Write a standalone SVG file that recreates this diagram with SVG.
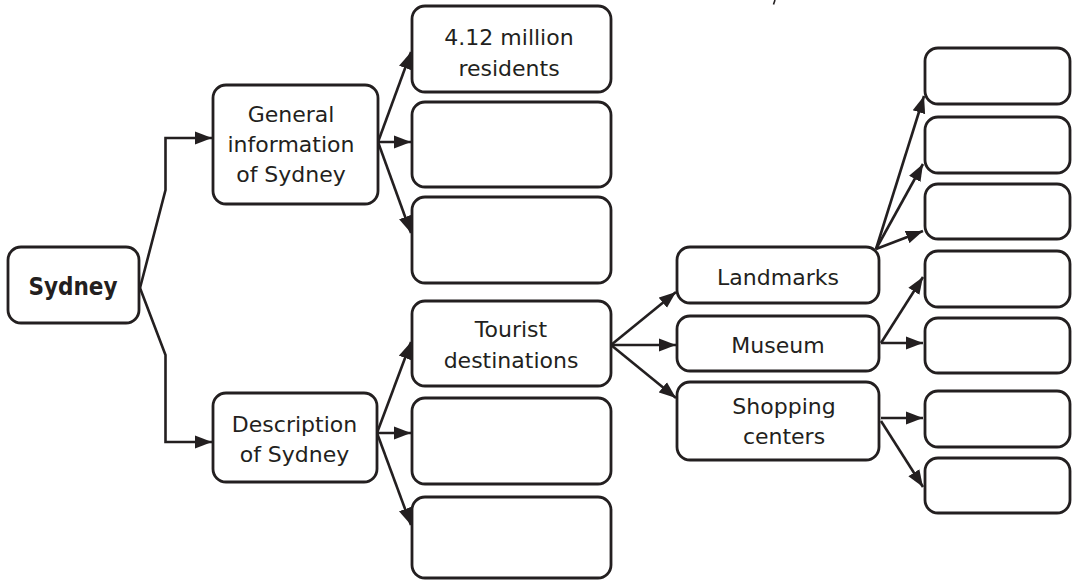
<svg xmlns="http://www.w3.org/2000/svg" width="1072" height="581" viewBox="0 0 1072 581">
<defs>
<marker id="ah" markerUnits="userSpaceOnUse" markerWidth="18" markerHeight="14" refX="17" refY="7" orient="auto">
<path d="M0,0.5 L17,7 L0,13.5 z" fill="#231f20"/>
</marker>
<style>
.box{fill:#fff;stroke:#231f20;stroke-width:2.8}
.lbl{font-family:"DejaVu Sans","Open Sans",sans-serif;font-size:22px;fill:#231f20;text-anchor:middle}
.bold{font-family:"DejaVu Sans Condensed","DejaVu Sans",sans-serif;font-stretch:condensed;font-weight:bold;font-size:24px;fill:#231f20;text-anchor:middle}
.con{fill:none;stroke:#231f20;stroke-width:2.6;marker-end:url(#ah)}
</style>
</defs>
<rect width="1072" height="581" fill="#fff"/>
<line x1="775" y1="0" x2="773.5" y2="4.5" stroke="#231f20" stroke-width="1.6"/>
<g id="connectors">
<path class="con" d="M140,288 L165.5,190 L165.5,138 L212,138"/>
<path class="con" d="M140,288 L165.5,355 L165.5,442 L212,442"/>
<path class="con" d="M378,142 L411,52"/>
<path class="con" d="M378,142 L411,142"/>
<path class="con" d="M378,142 L411,233"/>
<path class="con" d="M377,433 L411,342"/>
<path class="con" d="M377,433 L411,433"/>
<path class="con" d="M377,433 L411,525"/>
<path class="con" d="M611,345 L676,292"/>
<path class="con" d="M611,345 L676,345"/>
<path class="con" d="M611,345 L676,398"/>
<path class="con" d="M876,249 L924,96"/>
<path class="con" d="M876,249 L923,164"/>
<path class="con" d="M876,249 L923,231"/>
<path class="con" d="M881,343 L923,277"/>
<path class="con" d="M881,343 L923,343"/>
<path class="con" d="M881,418 L923,418"/>
<path class="con" d="M881,421 L923,487"/>
</g>
<g id="sydney"><rect class="box" x="8" y="247" width="131" height="76" rx="13"/><text class="bold" x="73" y="295">Sydney</text></g>
<g id="general"><rect class="box" x="213" y="85" width="165" height="119" rx="13"/><text class="lbl" x="291" y="122">General</text><text class="lbl" x="291" y="152">information</text><text class="lbl" x="291" y="182">of Sydney</text></g>
<g id="description"><rect class="box" x="213" y="393" width="164" height="89" rx="13"/><text class="lbl" x="294.5" y="432">Description</text><text class="lbl" x="294.5" y="462">of Sydney</text></g>
<g id="residents"><rect class="box" x="412" y="6" width="199" height="86" rx="13"/><text class="lbl" x="509" y="45">4.12 million</text><text class="lbl" x="509" y="76">residents</text></g>
<g id="gen2"><rect class="box" x="412" y="102" width="199" height="85" rx="13"/></g>
<g id="gen3"><rect class="box" x="412" y="197" width="199" height="86" rx="13"/></g>
<g id="tourist"><rect class="box" x="412" y="301" width="199" height="85" rx="13"/><text class="lbl" x="511" y="337">Tourist</text><text class="lbl" x="511" y="368">destinations</text></g>
<g id="desc2"><rect class="box" x="412" y="398" width="199" height="86" rx="13"/></g>
<g id="desc3"><rect class="box" x="412" y="497" width="199" height="81" rx="13"/></g>
<g id="landmarks"><rect class="box" x="677" y="247" width="202" height="56" rx="13"/><text class="lbl" x="778" y="285">Landmarks</text></g>
<g id="museum"><rect class="box" x="677" y="316" width="202" height="55" rx="13"/><text class="lbl" x="778" y="353">Museum</text></g>
<g id="shopping"><rect class="box" x="677" y="382" width="202" height="78" rx="13"/><text class="lbl" x="784" y="414">Shopping</text><text class="lbl" x="784" y="444">centers</text></g>
<g id="r1"><rect class="box" x="925" y="48" width="145" height="56" rx="13"/></g>
<g id="r2"><rect class="box" x="925" y="117" width="145" height="56" rx="13"/></g>
<g id="r3"><rect class="box" x="925" y="184" width="145" height="55" rx="13"/></g>
<g id="r4"><rect class="box" x="925" y="251" width="145" height="56" rx="13"/></g>
<g id="r5"><rect class="box" x="925" y="318" width="145" height="55" rx="13"/></g>
<g id="r6"><rect class="box" x="925" y="391" width="145" height="56" rx="13"/></g>
<g id="r7"><rect class="box" x="925" y="458" width="145" height="55" rx="13"/></g>
</svg>
